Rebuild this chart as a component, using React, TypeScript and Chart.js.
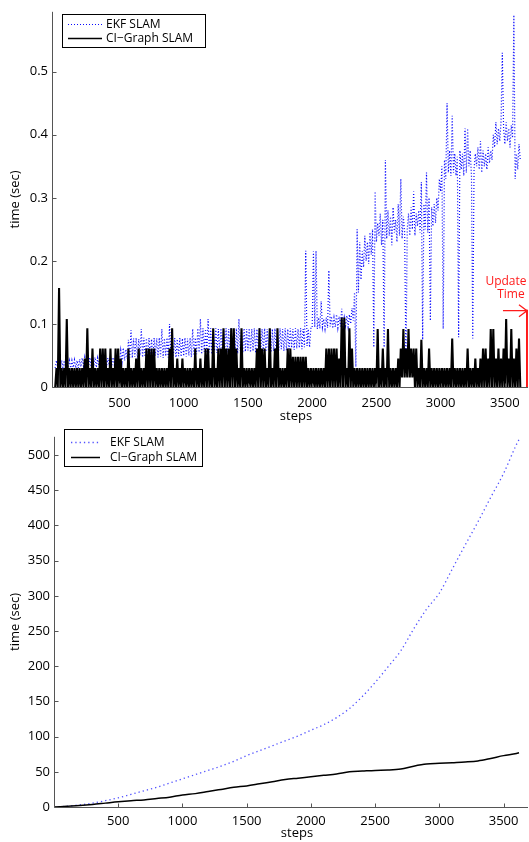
import React, { useEffect, useRef } from "react";
import { Chart, registerables } from "chart.js";

Chart.register(...registerables);

const FONT = '"Open Sans", "DejaVu Sans", sans-serif';

// ---------- shared tick values ----------
const stepTicks = [500, 1000, 1500, 2000, 2500, 3000, 3500];
const updateTimeTicks = [0, 0.1, 0.2, 0.3, 0.4, 0.5];
const updateTimeTickLabels = ["0", "0.1", "0.2", "0.3", "0.4", "0.5"];
const totalTimeTicks = [0, 50, 100, 150, 200, 250, 300, 350, 400, 450, 500];
const seriesNames = ["EKF SLAM", "CI\u2212Graph SLAM"];

// ---------- top chart: per-step update time (ms), one sample every 10 steps ----------
const updateSampleSpacing = 10;
const ciUpdateMs = [
  0, 30, 0, 157, 0, 30, 0, 30, 0, 108,
  0, 30, 0, 30, 0, 30, 0, 30, 0, 30,
  0, 30, 0, 45, 0, 93, 0, 30, 0, 61,
  0, 30, 0, 30, 0, 61, 0, 61, 0, 61,
  0, 30, 0, 61, 0, 30, 0, 61, 0, 61,
  0, 45, 0, 30, 0, 30, 0, 61, 0, 30,
  0, 30, 0, 45, 0, 61, 0, 30, 0, 30,
  0, 61, 0, 61, 0, 61, 0, 61, 0, 30,
  0, 30, 0, 30, 0, 30, 0, 30, 0, 61,
  0, 93, 0, 30, 0, 45, 0, 30, 0, 45,
  0, 30, 0, 30, 0, 30, 0, 30, 0, 61,
  0, 30, 0, 45, 0, 30, 0, 61, 0, 61,
  0, 30, 0, 93, 0, 30, 0, 61, 0, 61,
  0, 93, 0, 61, 0, 61, 0, 93, 0, 93,
  0, 61, 0, 30, 0, 93, 0, 30, 0, 30,
  0, 30, 0, 30, 0, 30, 0, 61, 0, 93,
  0, 61, 0, 61, 0, 30, 0, 93, 0, 30,
  0, 61, 0, 93, 0, 30, 0, 30, 0, 30,
  0, 61, 0, 61, 0, 48, 0, 48, 0, 48,
  0, 48, 0, 48, 0, 48, 0, 30, 0, 30,
  0, 30, 0, 30, 0, 30, 0, 30, 0, 30,
  0, 61, 0, 61, 0, 61, 0, 61, 0, 61,
  0, 45, 0, 110, 0, 110, 0, 30, 0, 93,
  0, 61, 0, 30, 0, 30, 0, 30, 0, 30,
  0, 30, 0, 30, 0, 30, 0, 30, 0, 30,
  0, 92, 0, 30, 0, 61, 0, 30, 0, 92,
  0, 30, 0, 30, 0, 30, 0, 45, 0, 61,
  15, 92, 15, 61, 15, 92, 15, 61, 15, 61,
  0, 61, 0, 30, 0, 75, 0, 30, 0, 30,
  0, 61, 0, 30, 0, 30, 0, 30, 0, 30,
  0, 30, 0, 30, 0, 30, 0, 30, 0, 77,
  0, 30, 0, 30, 0, 30, 0, 30, 0, 30,
  0, 61, 0, 30, 0, 30, 0, 45, 0, 30,
  0, 45, 0, 61, 0, 61, 0, 45, 0, 92,
  0, 92, 0, 45, 0, 61, 0, 45, 0, 61,
  0, 108, 0, 45, 0, 92, 0, 45, 0, 61,
  0, 77, 0,
];
const ekfUpdateMs = [
  30, 42, 30, 40, 30, 42, 31, 42, 30, 41,
  31, 42, 30, 42, 31, 43, 30, 42, 30, 44,
  32, 46, 33, 47, 31, 46, 33, 47, 32, 46,
  33, 47, 31, 46, 34, 47, 32, 46, 33, 47,
  32, 46, 34, 47, 33, 47, 35, 48, 36, 50,
  38, 58, 40, 62, 42, 60, 45, 75, 47, 90,
  46, 77, 48, 78, 45, 76, 50, 92, 47, 78,
  48, 77, 46, 78, 49, 76, 47, 78, 50, 77,
  47, 78, 48, 92, 46, 77, 49, 78, 47, 100,
  48, 77, 50, 78, 47, 76, 49, 78, 48, 77,
  49, 78, 48, 77, 50, 78, 47, 92, 50, 78,
  52, 93, 55, 108, 52, 93, 56, 92, 54, 108,
  55, 93, 52, 92, 57, 93, 54, 92, 56, 93,
  53, 92, 57, 93, 55, 92, 54, 93, 56, 92,
  55, 93, 53, 108, 57, 92, 54, 93, 56, 92,
  58, 93, 55, 92, 57, 93, 54, 92, 58, 93,
  55, 92, 57, 93, 56, 92, 58, 93, 55, 92,
  57, 93, 56, 92, 58, 93, 60, 92, 57, 93,
  58, 92, 60, 93, 62, 92, 59, 93, 61, 92,
  62, 93, 60, 92, 63, 216, 65, 92, 63, 93,
  93, 215, 95, 216, 92, 110, 93, 136, 95, 108,
  92, 110, 94, 185, 96, 112, 93, 110, 95, 115,
  94, 112, 96, 124, 93, 110, 97, 113, 95, 115,
  100, 125, 105, 150, 32, 250, 150, 230, 170, 215,
  190, 240, 200, 230, 195, 245, 210, 250, 63, 310,
  230, 260, 240, 275, 225, 265, 63, 360, 235, 280,
  240, 270, 225, 285, 245, 265, 230, 290, 240, 330,
  235, 270, 245, 32, 250, 275, 240, 285, 250, 310,
  240, 275, 255, 280, 245, 325, 75, 290, 250, 340,
  245, 300, 105, 285, 255, 290, 260, 300, 280, 330,
  310, 350, 92, 360, 330, 450, 340, 375, 335, 430,
  340, 370, 335, 365, 79, 375, 345, 370, 335, 410,
  340, 410, 350, 375, 335, 77, 345, 370, 350, 380,
  345, 390, 340, 375, 350, 370, 345, 380, 355, 375,
  360, 400, 380, 420, 385, 410, 390, 420, 530, 410,
  385, 420, 390, 410, 380, 415, 395, 590, 330, 370,
  345, 385, 360,
];
const updateTimeMarkerStep = 3672;
const updateTimeMarkerValue = 0.121;

// ---------- bottom chart: cumulative time (sec) ----------
const totalSteps = [
  0, 100, 200, 300, 400, 500, 600, 700, 800, 900,
  1000, 1100, 1200, 1300, 1400, 1500, 1600, 1700, 1800, 1900,
  2000, 2100, 2200, 2300, 2400, 2500, 2600, 2700, 2800, 2900,
  3000, 3100, 3200, 3300, 3400, 3500, 3600, 3620,
];
const ekfTotalSec = [
  0, 1, 3, 5.5, 9, 13, 18, 23, 28, 34,
  40, 46, 52, 58, 65, 73, 80, 87, 94, 101,
  109, 117, 127, 140, 157, 177, 199, 222, 253, 281,
  304, 338, 372, 405, 440, 474, 515, 522,
];
const ciTotalSec = [
  0, 1, 2, 3.5, 5.5, 7.5, 9, 10, 12, 14,
  17, 19, 22, 25, 28, 30, 33, 36, 39, 41,
  43, 45, 47, 50, 51, 52, 52.5, 54, 58, 61,
  62, 63, 64, 65.5, 69, 73, 76, 77,
];

// ---------- styles ----------
const EKF_TOP = { color: "rgb(10,10,255)", width: 1.2, dash: [1, 2] };
const EKF_BOT = { color: "rgb(80,80,255)", width: 1.3, dash: [1.3, 3] };
const CI_STYLE = { color: "#000", width: 1.5 };
const CI_TOP_WIDTH = 2.1;

type DecorOpts = {
  legend: { x: number; y: number; w: number; h: number; rows: number[]; lineX0: number; lineX1: number; textX: number; ekf: typeof EKF_TOP };
  stepsBaseline: number;
  stepsX: number;
  annotate: boolean;
};

function makeDecor(o: DecorOpts) {
  return {
    id: "decor",
    afterDraw(chart: any) {
      const ctx: CanvasRenderingContext2D = chart.ctx;
      const a = chart.chartArea;
      const xs = chart.scales.x;
      const ys = chart.scales.y;
      ctx.save();
      // axes
      const lx = Math.round(a.left) + 0.5;
      const by = Math.round(a.bottom) + 0.5;
      ctx.strokeStyle = "#555";
      ctx.lineWidth = 1;
      ctx.setLineDash([]);
      ctx.beginPath();
      ctx.moveTo(lx, a.top);
      ctx.lineTo(lx, by);
      ctx.lineTo(a.right, by);
      ctx.stroke();
      // inward ticks
      ctx.beginPath();
      xs.ticks.forEach((t: any) => {
        const px = Math.round(xs.getPixelForValue(t.value)) + 0.5;
        ctx.moveTo(px, by);
        ctx.lineTo(px, by - 4);
      });
      ys.ticks.forEach((t: any) => {
        const py = Math.round(ys.getPixelForValue(t.value)) + 0.5;
        ctx.moveTo(lx, py);
        ctx.lineTo(lx + 4, py);
      });
      ctx.stroke();
      // axis titles
      ctx.fillStyle = "#000";
      ctx.font = `13px ${FONT}`;
      ctx.textAlign = "center";
      ctx.textBaseline = "alphabetic";
      ctx.fillText("steps", o.stepsX, o.stepsBaseline);
      ctx.save();
      ctx.translate(15, (a.top + a.bottom) / 2);
      ctx.rotate(-Math.PI / 2);
      ctx.textBaseline = "middle";
      ctx.fillText("time (sec)", 0, 0);
      ctx.restore();
      // legend
      const L = o.legend;
      ctx.fillStyle = "#fff";
      ctx.fillRect(L.x, L.y, L.w, L.h);
      ctx.strokeStyle = "#000";
      ctx.lineWidth = 1;
      ctx.strokeRect(L.x + 0.5, L.y + 0.5, L.w, L.h);
      ctx.beginPath();
      ctx.strokeStyle = L.ekf.color;
      ctx.lineWidth = L.ekf.width;
      ctx.setLineDash(L.ekf.dash);
      ctx.moveTo(L.lineX0, L.rows[0] + 0.5);
      ctx.lineTo(L.lineX1, L.rows[0] + 0.5);
      ctx.stroke();
      ctx.setLineDash([]);
      ctx.beginPath();
      ctx.strokeStyle = CI_STYLE.color;
      ctx.lineWidth = CI_STYLE.width;
      ctx.moveTo(L.lineX0, L.rows[1] + 0.5);
      ctx.lineTo(L.lineX1, L.rows[1] + 0.5);
      ctx.stroke();
      ctx.fillStyle = "#000";
      ctx.font = `12px ${FONT}`;
      ctx.textAlign = "left";
      ctx.textBaseline = "middle";
      ctx.fillText(seriesNames[0], L.textX, L.rows[0] + 1);
      ctx.fillText(seriesNames[1], L.textX, L.rows[1] + 1);
      // update-time annotation
      if (o.annotate) {
        const xv = xs.getPixelForValue(updateTimeMarkerStep);
        const yv = ys.getPixelForValue(updateTimeMarkerValue);
        ctx.strokeStyle = "#ff1a1a";
        ctx.lineWidth = 2;
        ctx.beginPath();
        ctx.moveTo(xv, a.bottom);
        ctx.lineTo(xv, yv - 1);
        ctx.stroke();
        ctx.lineWidth = 1.3;
        ctx.beginPath();
        ctx.moveTo(xv - 24, yv);
        ctx.lineTo(xv, yv);
        ctx.moveTo(xv - 8, yv - 6);
        ctx.lineTo(xv, yv);
        ctx.lineTo(xv - 8, yv + 6);
        ctx.stroke();
        ctx.fillStyle = "#ff1a1a";
        ctx.font = `12px ${FONT}`;
        ctx.textAlign = "center";
        ctx.textBaseline = "middle";
        ctx.fillText("Update", xv - 21, yv - 29);
        ctx.fillText("Time", xv - 16, yv - 16);
      }
      ctx.restore();
    },
  };
}

function axisX(min: number, max: number, height: number, padding: number) {
  return {
    type: "linear" as const,
    min,
    max,
    grid: { display: false, drawTicks: false },
    border: { display: false },
    afterBuildTicks: (s: any) => {
      s.ticks = stepTicks.map((v) => ({ value: v }));
    },
    afterFit: (s: any) => {
      s.height = height;
    },
    ticks: {
      autoSkip: false,
      maxRotation: 0,
      padding,
      color: "#000",
      font: { family: FONT, size: 13 },
      callback: (v: any) => String(v),
    },
  };
}

function axisY(max: number, tickValues: number[], labels: string[], width: number) {
  return {
    type: "linear" as const,
    min: 0,
    max,
    grid: { display: false, drawTicks: false },
    border: { display: false },
    afterBuildTicks: (s: any) => {
      s.ticks = tickValues.map((v) => ({ value: v }));
    },
    afterFit: (s: any) => {
      s.width = width;
    },
    ticks: {
      autoSkip: false,
      padding: 4,
      color: "#000",
      font: { family: FONT, size: 13 },
      callback: (_v: any, i: number) => labels[i],
    },
  };
}

export default function App() {
  const topRef = useRef<HTMLCanvasElement>(null);
  const botRef = useRef<HTMLCanvasElement>(null);

  useEffect(() => {
    const ekfTop = ekfUpdateMs.map((v, i) => ({ x: i * updateSampleSpacing, y: v / 1000 }));
    const ciTop = ciUpdateMs.map((v, i) => ({ x: i * updateSampleSpacing, y: v / 1000 }));

    const top = new Chart(topRef.current!, {
      type: "line",
      data: {
        datasets: [
          {
            label: seriesNames[0],
            data: ekfTop,
            borderColor: EKF_TOP.color,
            borderWidth: EKF_TOP.width,
            borderDash: EKF_TOP.dash,
            pointRadius: 0,
            fill: false,
            order: 1,
          },
          {
            label: seriesNames[1],
            data: ciTop,
            borderColor: CI_STYLE.color,
            borderWidth: CI_TOP_WIDTH,
            borderJoinStyle: "bevel",
            pointRadius: 0,
            fill: false,
            order: 0,
          },
        ],
      },
      options: {
        animation: false,
        responsive: false,
        devicePixelRatio: 1,
        parsing: false,
        normalized: true,
        layout: { padding: { top: 8, left: 0, right: 1, bottom: 0 } },
        plugins: { legend: { display: false }, tooltip: { enabled: false } },
        scales: {
          x: axisX(-25, 3680, 38, 8),
          y: axisY(0.595, updateTimeTicks, updateTimeTickLabels, 52),
        },
      },
      plugins: [
        makeDecor({
          legend: { x: 62, y: 14, w: 143, h: 33, rows: [24, 38], lineX0: 68, lineX1: 102, textX: 106, ekf: EKF_TOP },
          stepsBaseline: 420,
          stepsX: 296,
          annotate: true,
        }),
      ],
    } as any);

    const ekfBot = totalSteps.map((s, i) => ({ x: s, y: ekfTotalSec[i] }));
    const ciBot = totalSteps.map((s, i) => ({ x: s, y: ciTotalSec[i] }));

    const bot = new Chart(botRef.current!, {
      type: "line",
      data: {
        datasets: [
          {
            label: seriesNames[0],
            data: ekfBot,
            borderColor: EKF_BOT.color,
            borderWidth: EKF_BOT.width,
            borderDash: EKF_BOT.dash,
            pointRadius: 0,
            fill: false,
            cubicInterpolationMode: "monotone",
            order: 1,
          },
          {
            label: seriesNames[1],
            data: ciBot,
            borderColor: CI_STYLE.color,
            borderWidth: CI_STYLE.width,
            pointRadius: 0,
            fill: false,
            cubicInterpolationMode: "monotone",
            order: 0,
          },
        ],
      },
      options: {
        animation: false,
        responsive: false,
        devicePixelRatio: 1,
        parsing: false,
        layout: { padding: { top: 3, left: 0, right: 1, bottom: 0 } },
        plugins: { legend: { display: false }, tooltip: { enabled: false } },
        scales: {
          x: axisX(0, 3690, 35, 6),
          y: axisY(526, totalTimeTicks, totalTimeTicks.map(String), 54),
        },
      },
      plugins: [
        makeDecor({
          legend: { x: 64, y: 4, w: 138, h: 37, rows: [17, 32], lineX0: 71, lineX1: 100, textX: 110, ekf: EKF_BOT },
          stepsBaseline: 412,
          stepsX: 297,
          annotate: false,
        }),
      ],
    } as any);

    return () => {
      top.destroy();
      bot.destroy();
    };
  }, []);

  return (
    <div style={{ position: "absolute", left: 0, top: 0, width: 529, height: 842, background: "#fff" }}>
      <canvas ref={topRef} width={529} height={425} style={{ position: "absolute", left: 0, top: 0, display: "block" }} />
      <canvas ref={botRef} width={529} height={417} style={{ position: "absolute", left: 0, top: 425, display: "block" }} />
    </div>
  );
}
